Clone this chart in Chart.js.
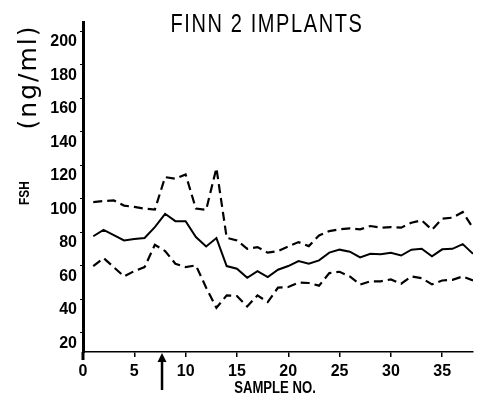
<!DOCTYPE html>
<html>
<head>
<meta charset="utf-8">
<script src="https://cdn.jsdelivr.net/npm/chart.js@4.4.0/dist/chart.umd.min.js"></script>
<style>
  body { margin: 0; background: #fff; }
  #wrap { width: 484px; height: 404px; }
</style>
</head>
<body>
<div id="wrap"><canvas id="fshChart" width="484" height="404"></canvas></div>
<script>
// Sample numbers along the x axis
const samples = [1, 2, 3, 4, 5, 6, 7, 8, 9, 10, 11, 12, 13, 14, 15, 16, 17, 18, 19, 20,
  21, 22, 23, 24, 25, 26, 27, 28, 29, 30, 31, 32, 33, 34, 35, 36, 37, 38];

// FSH (ng/ml): mean and upper / lower band
const fshMean = [77.5, 81.3, 78.2, 75.0, 75.8, 76.5, 82.9, 90.9, 86.5, 86.5, 77.0, 71.4, 76.4,
  59.7, 58.1, 52.7, 56.7, 53.1, 57.5, 59.7, 62.7, 61.1, 63.1, 67.7, 69.5, 68.3, 64.9, 67.0,
  66.7, 67.7, 66.0, 69.5, 70.0, 65.5, 69.7, 70.0, 72.8, 67.0];
const fshUpper = [97.9, 98.5, 98.9, 95.8, 95.0, 94.0, 93.4, 112.8, 111.8, 114.4, 94.0, 93.3, 118.2,
  76.6, 75.0, 70.0, 71.0, 67.7, 68.7, 71.4, 74.0, 71.6, 78.0, 80.6, 81.6, 82.2, 81.6, 83.6,
  82.6, 83.0, 82.6, 85.6, 87.0, 81.4, 88.0, 88.6, 92.0, 82.4];
const fshLower = [59.7, 64.5, 59.0, 53.5, 56.7, 59.1, 72.4, 68.7, 61.1, 59.1, 60.1, 46.8, 34.8,
  42.2, 41.8, 35.6, 42.2, 38.2, 46.8, 47.2, 49.8, 49.6, 48.0, 55.5, 56.3, 53.5, 48.6, 50.6,
  50.6, 51.7, 49.2, 53.5, 52.5, 48.8, 51.1, 51.5, 53.5, 51.1];

const xTicks = [0, 5, 10, 15, 20, 25, 30, 35];
const yTicks = [20, 40, 60, 80, 100, 120, 140, 160, 180, 200];
const implantSample = 7.7;

const sans = "'Liberation Sans', Arial, sans-serif";

function points(values) {
  return samples.map((s, i) => ({ x: s, y: values[i] }));
}

// text squeezed horizontally to look like a narrow face
function narrowText(ctx, text, x, y, squeeze, angle) {
  ctx.save();
  ctx.translate(x, y);
  if (angle) ctx.rotate(angle);
  ctx.scale(squeeze, 1);
  ctx.fillText(text, 0, 0);
  ctx.restore();
}

// Title, unit label, axis names and the implant arrow
const annotations = {
  id: "annotations",
  afterDraw(chart) {
    const ctx = chart.ctx;
    const area = chart.chartArea;
    const xs = chart.scales.x;
    ctx.save();
    ctx.fillStyle = "#000";
    ctx.strokeStyle = "#000";
    ctx.textAlign = "center";
    ctx.textBaseline = "middle";

    ctx.font = "25px " + sans;
    ctx.letterSpacing = "2px";
    narrowText(ctx, "FINN 2 IMPLANTS", 267, 25, 0.8, 0);

    ctx.letterSpacing = "2px";
    ctx.font = "25px 'DejaVu Sans', sans-serif";
    narrowText(ctx, "(ng/ml)", 29, 77, 1, -Math.PI / 2);

    ctx.letterSpacing = "0px";
    ctx.font = "bold 14px " + sans;
    narrowText(ctx, "FSH", 25, 193, 0.85, -Math.PI / 2);

    ctx.font = "bold 16px " + sans;
    narrowText(ctx, "SAMPLE NO.", 275, 389, 0.82, 0);

    // y axis runs a little past the x axis
    ctx.lineWidth = 3;
    ctx.beginPath();
    ctx.moveTo(area.left, area.bottom);
    ctx.lineTo(area.left, area.bottom + 8);
    ctx.stroke();

    // arrow marking the implant
    const ax = xs.getPixelForValue(implantSample);
    ctx.lineWidth = 2.5;
    ctx.beginPath();
    ctx.moveTo(ax, area.bottom + 6);
    ctx.lineTo(ax, area.bottom + 38);
    ctx.stroke();
    ctx.beginPath();
    ctx.moveTo(ax, area.bottom + 1);
    ctx.lineTo(ax - 4.5, area.bottom + 10);
    ctx.lineTo(ax + 4.5, area.bottom + 10);
    ctx.closePath();
    ctx.fill();
    ctx.restore();
  }
};

new Chart(document.getElementById("fshChart"), {
  type: "line",
  data: {
    datasets: [
      {
        label: "Mean",
        data: points(fshMean),
        borderColor: "#000",
        borderWidth: 2,
        pointRadius: 0,
        tension: 0
      },
      {
        label: "Upper",
        data: points(fshUpper),
        borderColor: "#000",
        borderWidth: 2.2,
        borderDash: [9, 5],
        pointRadius: 0,
        tension: 0
      },
      {
        label: "Lower",
        data: points(fshLower),
        borderColor: "#000",
        borderWidth: 2.2,
        borderDash: [9, 5],
        pointRadius: 0,
        tension: 0
      }
    ]
  },
  options: {
    responsive: false,
    animation: false,
    layout: { padding: { top: 22, right: 11, left: 0, bottom: 0 } },
    plugins: {
      legend: { display: false },
      title: { display: false },
      tooltip: { enabled: false }
    },
    scales: {
      x: {
        type: "linear",
        min: 0,
        max: 38,
        afterFit: (scale) => { scale.height = 52; },
        afterBuildTicks: (scale) => { scale.ticks = xTicks.map(v => ({ value: v })); },
        border: { display: true, color: "#000", width: 1.5 },
        grid: { drawOnChartArea: false, drawTicks: true, tickLength: 5, color: "#000", lineWidth: 1.5 },
        ticks: {
          color: "#000",
          padding: 5,
          maxRotation: 0,
          font: { family: sans, size: 16, weight: "bold" }
        }
      },
      y: {
        min: 8.4,
        max: 205.4,
        afterFit: (scale) => { scale.width = 83; },
        afterBuildTicks: (scale) => { scale.ticks = yTicks.map(v => ({ value: v })); },
        border: { display: true, color: "#000", width: 3 },
        grid: { drawOnChartArea: false, drawTicks: true, tickLength: 3, color: "#000", lineWidth: 1 },
        ticks: {
          color: "#000",
          padding: 3,
          labelOffset: 11,
          font: { family: sans, size: 16, weight: "bold" }
        }
      }
    }
  },
  plugins: [annotations]
});
</script>
</body>
</html>
